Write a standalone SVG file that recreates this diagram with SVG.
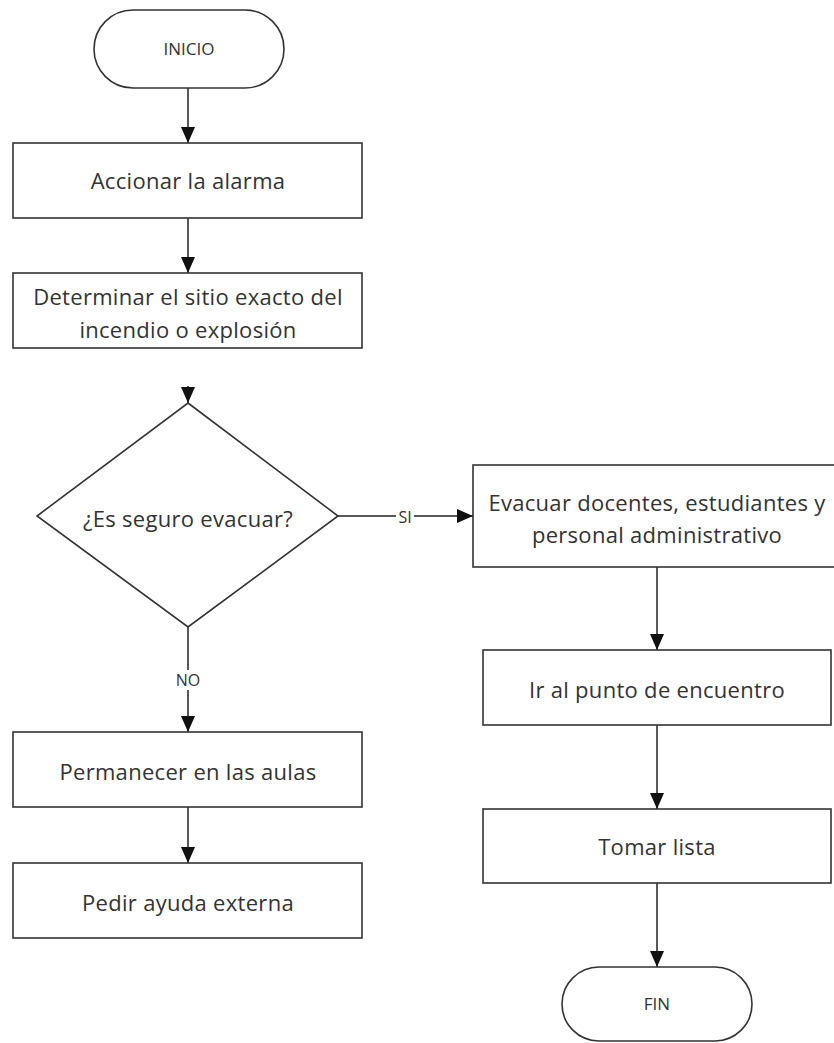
<svg xmlns="http://www.w3.org/2000/svg" width="834" height="1043" viewBox="0 0 834 1043">
  <style>
    .shape { fill: #ffffff; stroke: #333333; stroke-width: 1.6; }
    .line { fill: none; stroke: #222222; stroke-width: 1.5; }
    .label { font-family: "Open Sans", "Noto Sans", sans-serif; font-size: 22px; letter-spacing: 0.3px; fill: #333333; text-anchor: middle; }
    .small { font-family: "Open Sans", "Noto Sans", sans-serif; font-size: 17px; fill: #333333; text-anchor: middle; }
    .edge { font-family: "Open Sans", "Noto Sans", sans-serif; font-size: 16px; fill: #333333; text-anchor: middle; }
  </style>
  <defs>
    <marker id="arrow" viewBox="0 0 16 14" refX="16" refY="7" markerWidth="16" markerHeight="14" markerUnits="userSpaceOnUse" orient="auto">
      <path d="M0,0 L16,7 L0,14 Z" fill="#111111"/>
    </marker>
  </defs>
  <rect width="834" height="1043" fill="#ffffff"/>

  <g id="connectors">
    <line class="line" x1="188" y1="88" x2="188" y2="143" marker-end="url(#arrow)"/>
    <line class="line" x1="188" y1="218" x2="188" y2="273" marker-end="url(#arrow)"/>
    <line class="line" x1="188" y1="386" x2="188" y2="403" marker-end="url(#arrow)"/>
    <line class="line" x1="338" y1="516" x2="396" y2="516"/>
    <line class="line" x1="414" y1="516" x2="473" y2="516" marker-end="url(#arrow)"/>
    <line class="line" x1="188" y1="627" x2="188" y2="670"/>
    <line class="line" x1="188" y1="690" x2="188" y2="732" marker-end="url(#arrow)"/>
    <line class="line" x1="188" y1="807" x2="188" y2="863" marker-end="url(#arrow)"/>
    <line class="line" x1="657" y1="567" x2="657" y2="650" marker-end="url(#arrow)"/>
    <line class="line" x1="657" y1="725" x2="657" y2="809" marker-end="url(#arrow)"/>
    <line class="line" x1="657" y1="883" x2="657" y2="967" marker-end="url(#arrow)"/>
    <text class="edge" x="405" y="523">SI</text>
    <text class="edge" x="188" y="686">NO</text>
  </g>

  <g id="inicio">
    <rect class="shape" x="94" y="10" width="190" height="78" rx="39" ry="39"/>
    <text class="small" x="189" y="55">INICIO</text>
  </g>

  <g id="accionar">
    <rect class="shape" x="13" y="143" width="349" height="75"/>
    <text class="label" x="188" y="189">Accionar la alarma</text>
  </g>

  <g id="determinar">
    <rect class="shape" x="13" y="273" width="349" height="75"/>
    <text class="label" x="188" y="305">Determinar el sitio exacto del</text>
    <text class="label" x="188" y="338">incendio o explosión</text>
  </g>

  <g id="decision">
    <polygon class="shape" points="188,403 338,516 188,627 37,516"/>
    <text class="label" x="188" y="527">¿Es seguro evacuar?</text>
  </g>

  <g id="evacuar">
    <rect class="shape" x="473" y="465" width="370" height="102"/>
    <text class="label" x="657" y="511">Evacuar docentes, estudiantes y</text>
    <text class="label" x="657" y="543">personal administrativo</text>
  </g>

  <g id="punto">
    <rect class="shape" x="483" y="650" width="348" height="75"/>
    <text class="label" x="657" y="698">Ir al punto de encuentro</text>
  </g>

  <g id="lista">
    <rect class="shape" x="483" y="809" width="348" height="74"/>
    <text class="label" x="657" y="855">Tomar lista</text>
  </g>

  <g id="fin">
    <rect class="shape" x="562" y="967" width="190" height="74" rx="37" ry="37"/>
    <text class="small" x="657" y="1010">FIN</text>
  </g>

  <g id="permanecer">
    <rect class="shape" x="13" y="732" width="349" height="75"/>
    <text class="label" x="188" y="780">Permanecer en las aulas</text>
  </g>

  <g id="ayuda">
    <rect class="shape" x="13" y="863" width="349" height="75"/>
    <text class="label" x="188" y="911">Pedir ayuda externa</text>
  </g>
</svg>
